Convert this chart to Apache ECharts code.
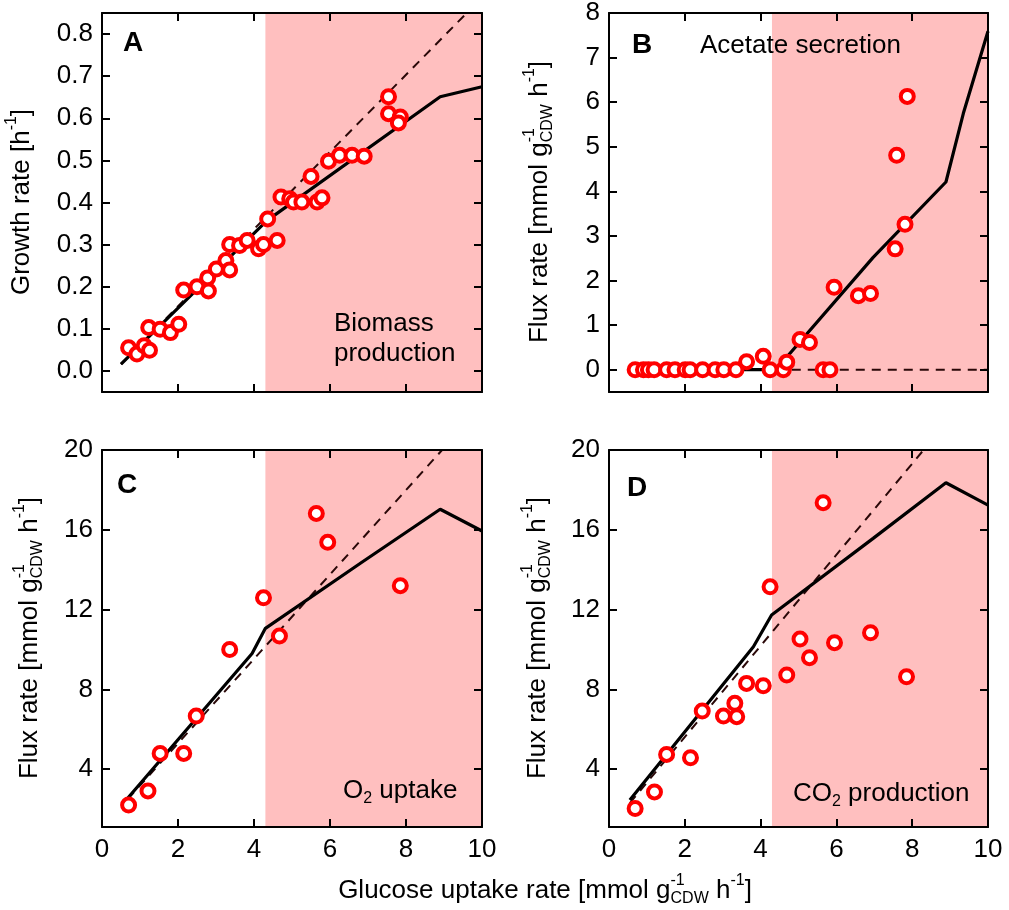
<!DOCTYPE html>
<html>
<head>
<meta charset="utf-8">
<script src="https://cdn.jsdelivr.net/npm/echarts@6/dist/echarts.min.js"></script>
<style>
  html, body { margin: 0; padding: 0; background: #fff; }
  #chart { width: 1009px; height: 910px; }
</style>
</head>
<body>
<div id="chart"></div>
<script>
// ---- data ----
const shadeFrom = 4.3;

// A: growth rate
const gluA = [0.70, 0.92, 1.11, 1.25, 1.23, 1.53, 1.80, 2.02, 2.15, 2.50, 2.78, 2.80, 3.01, 3.26, 3.36, 3.36, 3.62, 3.82, 4.12, 4.25, 4.36, 4.61, 4.71, 4.94, 5.04, 5.26, 5.50, 5.66, 5.79, 5.96, 6.25, 6.58, 6.90, 7.54, 7.54, 7.85, 7.80];
const muA = [0.055, 0.040, 0.060, 0.049, 0.103, 0.099, 0.091, 0.111, 0.192, 0.200, 0.221, 0.190, 0.242, 0.262, 0.240, 0.300, 0.298, 0.310, 0.290, 0.300, 0.361, 0.310, 0.413, 0.409, 0.401, 0.401, 0.462, 0.401, 0.411, 0.498, 0.512, 0.512, 0.510, 0.651, 0.611, 0.603, 0.589];
const modelAx = [0.5, 4.34, 8.9, 10];
const modelAy = [0.016, 0.357, 0.651, 0.675];
const dashAx = [0.5, 9.6];
const dashAy = [0.016, 0.85];

// B: acetate secretion
const gluB = [0.69, 0.91, 1.04, 1.19, 1.52, 1.74, 2.01, 2.14, 2.47, 2.80, 3.03, 3.35, 4.25, 4.60, 5.65, 5.83, 3.63, 4.07, 4.69, 5.04, 5.29, 5.94, 6.58, 6.90, 7.55, 7.81, 7.59, 7.87];
const acB = [0, 0, 0, 0, 0, 0, 0, 0, 0, 0, 0, 0, 0, 0, 0, 0, 0.18, 0.30, 0.17, 0.68, 0.61, 1.85, 1.66, 1.71, 2.71, 3.26, 4.81, 6.13];
const modelBx = [0.6, 4.4, 6.97, 8.89, 9.35, 10];
const modelBy = [0, 0, 2.52, 4.21, 5.75, 7.59];
const dashBx = [4.4, 10];
const dashBy = [0, 0];

// C: O2 uptake
const gluC = [0.70, 1.21, 1.53, 2.15, 2.48, 3.36, 4.25, 4.67, 5.64, 5.94, 7.85];
const o2C = [2.2, 2.91, 4.79, 4.79, 6.66, 10.0, 12.59, 10.67, 16.82, 15.37, 13.2];
const modelCx = [0.68, 3.95, 4.30, 6.80, 8.90, 10];
const modelCy = [2.55, 9.8, 11.06, 14.32, 17.03, 15.94];
const dashCx = [0.68, 8.95];
const dashCy = [2.5, 20];

// D: CO2 production
const gluD = [0.69, 1.20, 1.52, 2.15, 2.46, 3.02, 3.32, 3.37, 3.63, 4.07, 4.25, 4.69, 5.04, 5.29, 5.65, 5.95, 6.90, 7.85];
const co2D = [2.03, 2.86, 4.74, 4.57, 6.91, 6.66, 7.30, 6.63, 8.30, 8.18, 13.14, 8.72, 10.52, 9.59, 17.36, 10.34, 10.84, 8.63];
const modelDx = [0.55, 3.81, 4.29, 6.97, 8.89, 10];
const modelDy = [2.45, 10.14, 11.73, 15.57, 18.36, 17.24];
const dashDx = [0.55, 8.3];
const dashDy = [2.3, 20];

// tick values
const ticksA = [0, 0.1, 0.2, 0.3, 0.4, 0.5, 0.6, 0.7, 0.8];
const ticksB = [0, 1, 2, 3, 4, 5, 6, 7, 8];
const ticksCD = [4, 8, 12, 16, 20];
const ticksX = [0, 2, 4, 6, 8, 10];

const FONT = '"Liberation Sans", Arial, Helvetica, sans-serif';
const zip = (xs, ys) => xs.map((x, i) => [x, ys[i]]);

const grids = [
  { left: 102, top: 13, width: 380, height: 379 },
  { left: 609, top: 13, width: 379, height: 379 },
  { left: 102, top: 450, width: 380, height: 377 },
  { left: 609, top: 450, width: 379, height: 377 },
];
const yRanges = [
  { min: -0.05, max: 0.85, ticks: ticksA, fmt: (v) => v.toFixed(1) },
  { min: -0.5, max: 8, ticks: ticksB, fmt: (v) => String(v) },
  { min: 1.1, max: 20, ticks: ticksCD, fmt: (v) => String(v) },
  { min: 1.1, max: 20, ticks: ticksCD, fmt: (v) => String(v) },
];

const axisLine = { show: true, onZero: false, lineStyle: { color: '#000', width: 2 } };
const axisTickIn = (vals) => ({ show: true, inside: true, length: 8, lineStyle: { color: '#000', width: 2 }, customValues: vals });

const xAxis = [];
const yAxis = [];
grids.forEach((g, i) => {
  ['bottom', 'top'].forEach((pos) => {
    xAxis.push({
      type: 'value', gridIndex: i, position: pos, min: 0, max: 10,
      axisLine, axisTick: axisTickIn(ticksX), splitLine: { show: false }, z: 10,
      axisLabel: {
        show: pos === 'bottom' && i >= 2, customValues: ticksX, margin: 10,
        fontSize: 26, color: '#000', fontFamily: FONT,
      },
    });
  });
  const r = yRanges[i];
  ['left', 'right'].forEach((pos) => {
    yAxis.push({
      type: 'value', gridIndex: i, position: pos, min: r.min, max: r.max,
      axisLine, axisTick: axisTickIn(r.ticks), splitLine: { show: false }, z: 10,
      axisLabel: {
        show: pos === 'left', customValues: r.ticks, margin: 9, formatter: r.fmt,
        fontSize: 26, color: '#000', fontFamily: FONT,
      },
    });
  });
});

const panels = [
  { pts: zip(gluA, muA), model: zip(modelAx, modelAy), dash: zip(dashAx, dashAy) },
  { pts: zip(gluB, acB), model: zip(modelBx, modelBy), dash: zip(dashBx, dashBy) },
  { pts: zip(gluC, o2C), model: zip(modelCx, modelCy), dash: zip(dashCx, dashCy) },
  { pts: zip(gluD, co2D), model: zip(modelDx, modelDy), dash: zip(dashDx, dashDy) },
];

const series = [];
panels.forEach((p, i) => {
  const ax = { xAxisIndex: i * 2, yAxisIndex: i * 2 };
  series.push({
    type: 'line', ...ax, data: [], z: 1, silent: true,
    markArea: {
      silent: true,
      itemStyle: { color: '#ffbfbf', opacity: 1 },
      label: { show: false },
      data: [[{ xAxis: shadeFrom }, { xAxis: 10 }]],
    },
  });
  series.push({
    type: 'line', ...ax, data: p.dash, z: 2, symbol: 'none', animation: false,
    lineStyle: { color: '#2a0808', width: 2, type: [9, 7] },
  });
  series.push({
    type: 'line', ...ax, data: p.model, z: 3, symbol: 'none', animation: false,
    lineStyle: { color: '#000', width: 3.2 },
  });
  series.push({
    type: 'scatter', ...ax, data: p.pts, z: 5, symbol: 'circle', symbolSize: 13,
    animation: false,
    itemStyle: { color: '#fff', borderColor: '#ff0000', borderWidth: 4, opacity: 1 },
  });
});

// ---- text with super/subscripts, measured so pieces line up ----
const ctx = document.createElement('canvas').getContext('2d');
function measure(t, size, weight) {
  ctx.font = (weight || 'normal') + ' ' + size + 'px ' + FONT;
  return ctx.measureText(t).width;
}
// parts: {t, s, dy, stack}; stack = the next part starts at the same x
function richGroup(parts, x, y, rotation, center) {
  let cx = 0;
  let pending = 0;
  const items = [];
  parts.forEach((p) => {
    const w = measure(p.t, p.s);
    items.push({ p, x: cx });
    if (p.stack) {
      pending = Math.max(pending, w);
    } else {
      cx += Math.max(w, pending);
      pending = 0;
    }
  });
  const off = center ? -cx / 2 : 0;
  return {
    type: 'group', x, y, rotation: rotation || 0, z: 100,
    children: items.map((it) => ({
      type: 'text', x: it.x + off, y: it.p.dy || 0, z: 100,
      style: {
        text: it.p.t, font: 'normal ' + it.p.s + 'px ' + FONT, fill: '#000',
        textAlign: 'left', textVerticalAlign: 'middle', align: 'left', verticalAlign: 'middle',
      },
    })),
  };
}
const M = 26;
const S = 16;
const fluxParts = [
  { t: 'Flux rate [mmol g', s: M },
  { t: '-1', s: S, dy: -10, stack: true },
  { t: 'CDW', s: S, dy: 8 },
  { t: ' h', s: M },
  { t: '-1', s: S, dy: -10 },
  { t: ']', s: M },
];
const growthParts = [
  { t: 'Growth rate [h', s: M },
  { t: '-1', s: S, dy: -10 },
  { t: ']', s: M },
];
const glucoseParts = [
  { t: 'Glucose uptake rate [mmol g', s: M },
  { t: '-1', s: S, dy: -10, stack: true },
  { t: 'CDW', s: S, dy: 8 },
  { t: ' h', s: M },
  { t: '-1', s: S, dy: -10 },
  { t: ']', s: M },
];

function plainText(t, x, y, size, weight) {
  return {
    type: 'text', x, y, z: 100,
    style: {
      text: t, font: (weight || 'normal') + ' ' + size + 'px ' + FONT, fill: '#000',
      textAlign: 'left', textVerticalAlign: 'middle', align: 'left', verticalAlign: 'middle',
    },
  };
}

const graphic = [
  richGroup(growthParts, 22, 202, Math.PI / 2, true),
  richGroup(fluxParts, 540, 202, Math.PI / 2, true),
  richGroup(fluxParts, 30, 638, Math.PI / 2, true),
  richGroup(fluxParts, 538, 638, Math.PI / 2, true),
  richGroup(glucoseParts, 545, 891, 0, true),
  plainText('A', 123, 43, 28, 'bold'),
  plainText('B', 632, 45, 28, 'bold'),
  plainText('C', 117, 485, 28, 'bold'),
  plainText('D', 627, 488, 28, 'bold'),
  plainText('Biomass', 334, 324, M),
  plainText('production', 334, 354, M),
  plainText('Acetate secretion', 700, 46, M),
  richGroup([{ t: 'O', s: M }, { t: '2', s: S, dy: 8 }, { t: ' uptake', s: M }], 343, 791, 0, false),
  richGroup([{ t: 'CO', s: M }, { t: '2', s: S, dy: 8 }, { t: ' production', s: M }], 793, 794, 0, false),
];

const chart = echarts.init(document.getElementById('chart'), null, { renderer: 'canvas' });
chart.setOption({
  animation: false,
  backgroundColor: '#fff',
  grid: grids,
  xAxis,
  yAxis,
  series,
  graphic,
});
</script>
</body>
</html>
